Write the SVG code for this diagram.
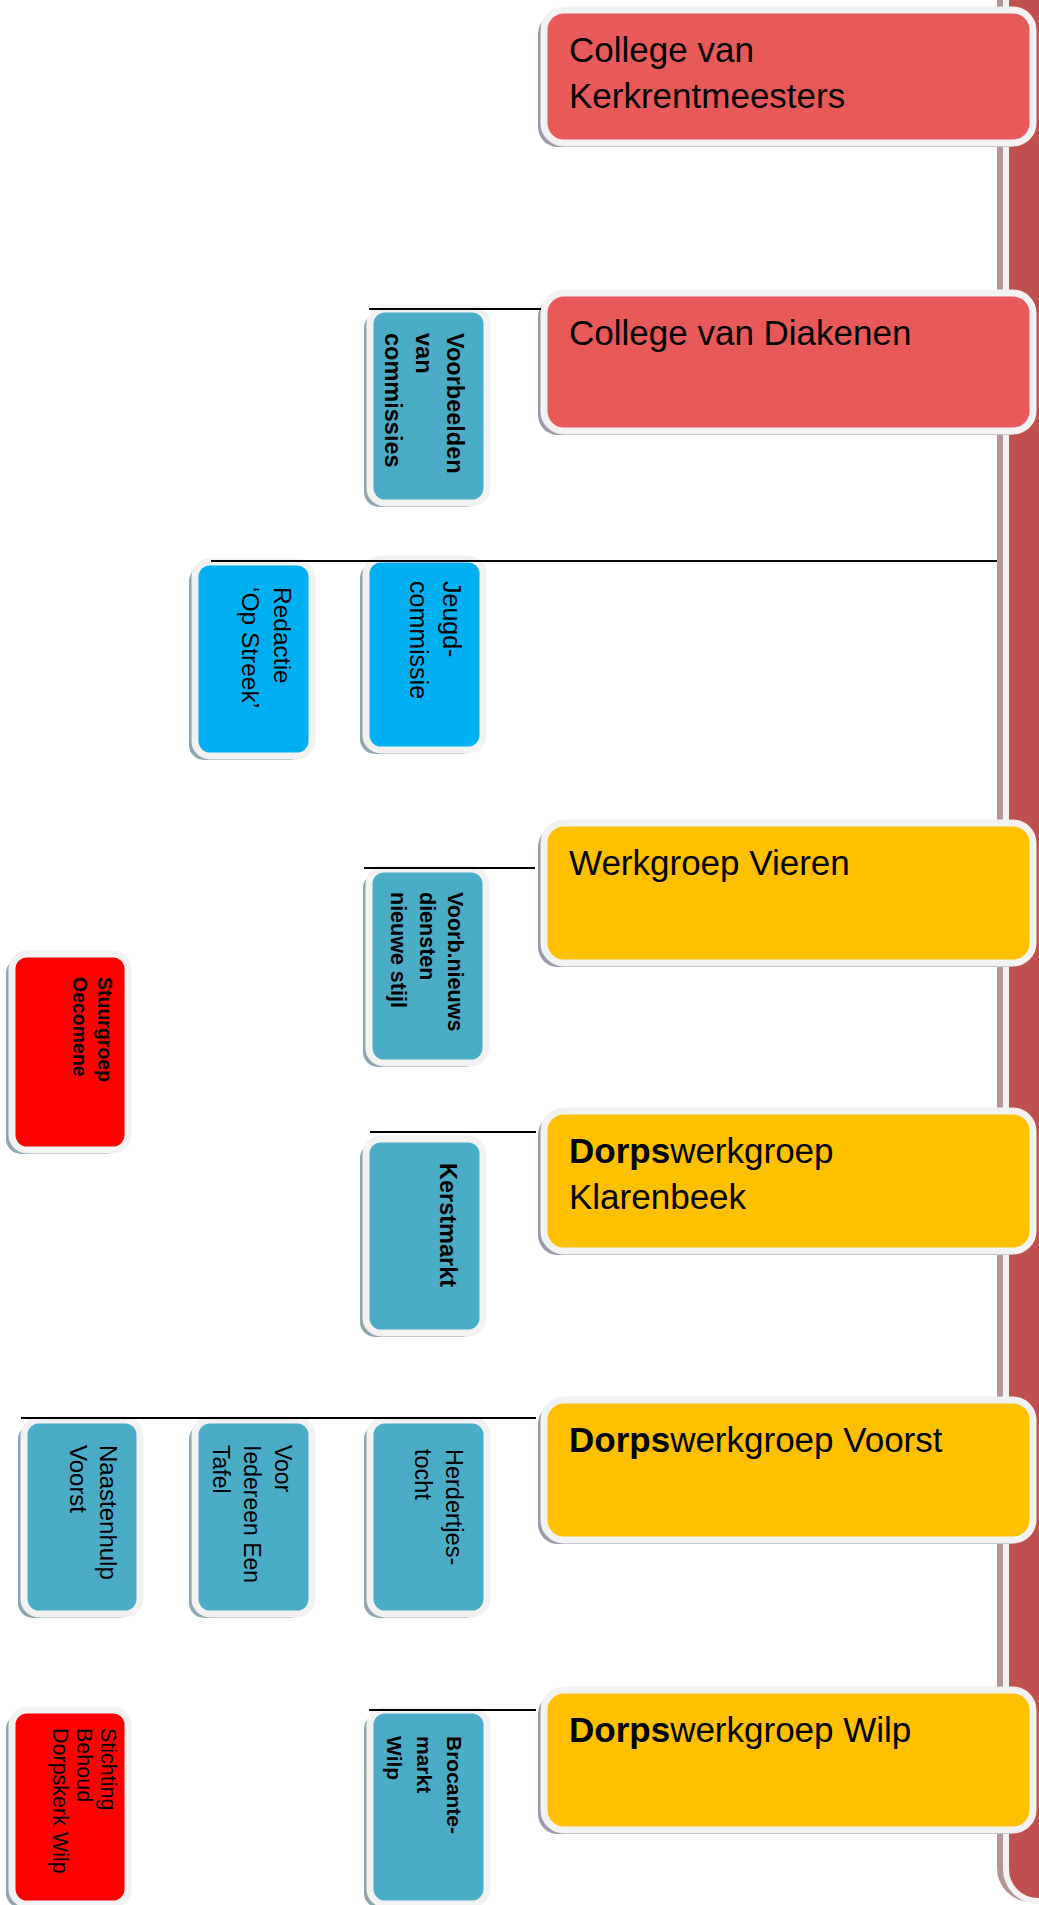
<svg xmlns="http://www.w3.org/2000/svg" width="1039" height="1905" viewBox="0 0 1039 1905">
<style>
  .shb{fill:#9e98a8}
  .shs{fill:#8fa6af}
  .bd{stroke:#f2f2f2;stroke-width:7}
  .rb{fill:#e85a5a}
  .yl{fill:#ffc000}
  .aq{fill:#4bacc6}
  .sk{fill:#00b0f0}
  .rd{fill:#ff0000}
  .bt{font-family:"Liberation Sans",Arial,sans-serif;font-size:35px;fill:#000}
  .st{font-family:"Liberation Sans",Arial,sans-serif;fill:#000}
  .b{font-weight:bold}
  .conn line{stroke:#000;stroke-width:2}
</style>
<rect width="1039" height="1905" fill="#ffffff"/>

<g id="sidebar">
  <rect x="997" y="-40" width="90" height="1942" rx="34" fill="#b39595"/>
  <rect x="1006" y="-40" width="90" height="1941" rx="32" fill="#c0504d" stroke="#f2f2f2" stroke-width="6"/>
</g>

<g id="n-kerkrentmeesters">
  <rect class="shb" x="538" y="14" width="489" height="133" rx="20"/>
  <rect class="rb bd" x="544" y="10" width="489" height="133" rx="20"/>
  <text class="bt" x="569" y="62">College van</text>
  <text class="bt" x="569" y="108">Kerkrentmeesters</text>
</g>

<g id="n-diakenen">
  <rect class="shb" x="538" y="297" width="489" height="138" rx="20"/>
  <rect class="rb bd" x="544" y="293" width="489" height="138" rx="20"/>
  <text class="bt" x="569" y="345">College van Diakenen</text>
</g>

<g id="n-vieren">
  <rect class="shb" x="538" y="827" width="489" height="140" rx="20"/>
  <rect class="yl bd" x="544" y="823" width="489" height="140" rx="20"/>
  <text class="bt" x="569" y="875">Werkgroep Vieren</text>
</g>

<g id="n-klarenbeek">
  <rect class="shb" x="538" y="1115" width="489" height="140" rx="20"/>
  <rect class="yl bd" x="544" y="1111" width="489" height="140" rx="20"/>
  <text class="bt" x="569" y="1163"><tspan class="b">Dorps</tspan>werkgroep</text>
  <text class="bt" x="569" y="1209">Klarenbeek</text>
</g>

<g id="n-voorst">
  <rect class="shb" x="538" y="1404" width="489" height="140" rx="20"/>
  <rect class="yl bd" x="544" y="1400" width="489" height="140" rx="20"/>
  <text class="bt" x="569" y="1452"><tspan class="b">Dorps</tspan>werkgroep Voorst</text>
</g>

<g id="n-wilp">
  <rect class="shb" x="538" y="1694" width="489" height="140" rx="20"/>
  <rect class="yl bd" x="544" y="1690" width="489" height="140" rx="20"/>
  <text class="bt" x="569" y="1742"><tspan class="b">Dorps</tspan>werkgroep Wilp</text>
</g>

<g id="n-voorbeelden">
  <rect class="shs" x="364" y="313" width="117" height="194" rx="15"/>
  <rect class="aq bd" x="370" y="309" width="117" height="194" rx="15"/>
  <text class="st b" font-size="23.5" transform="translate(447,333) rotate(90)"><tspan x="0" y="0">Voorbeelden</tspan><tspan x="0" y="31">van</tspan><tspan x="0" y="62">commissies</tspan></text>
</g>

<g id="n-redactie">
  <rect class="shs" x="189" y="566" width="117" height="194" rx="15"/>
  <rect class="sk bd" x="195" y="562" width="117" height="194" rx="15"/>
  <text class="st" font-size="24.5" transform="translate(274,587) rotate(90)"><tspan x="0" y="0">Redactie</tspan><tspan x="0" y="32">‘Op Streek’</tspan></text>
</g>

<g id="n-jeugd">
  <rect class="shs" x="360" y="563" width="117" height="191" rx="15"/>
  <rect class="sk bd" x="366" y="559" width="117" height="191" rx="15"/>
  <text class="st" font-size="25" transform="translate(443,581) rotate(90)"><tspan x="0" y="0">Jeugd-</tspan><tspan x="0" y="33">commissie</tspan></text>
</g>

<g id="n-voorbnieuws">
  <rect class="shs" x="363" y="873" width="117" height="194" rx="15"/>
  <rect class="aq bd" x="369" y="869" width="117" height="194" rx="15"/>
  <text class="st b" font-size="21.5" transform="translate(448,892) rotate(90)"><tspan x="0" y="0">Voorb.nieuws</tspan><tspan x="0" y="28.5">diensten</tspan><tspan x="0" y="57">nieuwe stijl</tspan></text>
</g>

<g id="n-stuurgroep">
  <rect class="shs" x="6" y="958" width="116" height="196" rx="15"/>
  <rect class="rd bd" x="12" y="954" width="116" height="196" rx="15"/>
  <text class="st b" font-size="19.5" transform="translate(98,977) rotate(90)"><tspan x="0" y="0">Stuurgroep</tspan><tspan x="0" y="25">Oecomene</tspan></text>
</g>

<g id="n-kerstmarkt">
  <rect class="shs" x="360" y="1143" width="117" height="194" rx="15"/>
  <rect class="aq bd" x="366" y="1139" width="117" height="194" rx="15"/>
  <text class="st b" font-size="23.5" transform="translate(440,1163) rotate(90)">Kerstmarkt</text>
</g>

<g id="n-naastenhulp">
  <rect class="shs" x="18" y="1424" width="116" height="194" rx="15"/>
  <rect class="aq bd" x="24" y="1420" width="116" height="194" rx="15"/>
  <text class="st" font-size="24" transform="translate(100,1445) rotate(90)"><tspan x="0" y="0">Naastenhulp</tspan><tspan x="0" y="30">Voorst</tspan></text>
</g>

<g id="n-iedereen">
  <rect class="shs" x="189" y="1424" width="117" height="194" rx="15"/>
  <rect class="aq bd" x="195" y="1420" width="117" height="194" rx="15"/>
  <text class="st" font-size="23" transform="translate(275,1445) rotate(90)"><tspan x="0" y="0">Voor</tspan><tspan x="0" y="31">Iedereen Een</tspan><tspan x="0" y="62">Tafel</tspan></text>
</g>

<g id="n-herdertjes">
  <rect class="shs" x="364" y="1424" width="117" height="194" rx="15"/>
  <rect class="aq bd" x="370" y="1420" width="117" height="194" rx="15"/>
  <text class="st" font-size="23.5" transform="translate(446,1449) rotate(90)"><tspan x="0" y="0">Herdertjes-</tspan><tspan x="0" y="31">tocht</tspan></text>
</g>

<g id="n-brocante">
  <rect class="shs" x="364" y="1714" width="117" height="194" rx="15"/>
  <rect class="aq bd" x="370" y="1710" width="117" height="194" rx="15"/>
  <text class="st b" font-size="21" transform="translate(447,1736) rotate(90)"><tspan x="0" y="0">Brocante-</tspan><tspan x="0" y="30">markt</tspan><tspan x="0" y="60">Wilp</tspan></text>
</g>

<g id="n-stichting">
  <rect class="shs" x="6" y="1714" width="116" height="194" rx="15"/>
  <rect class="rd bd" x="12" y="1710" width="116" height="194" rx="15"/>
  <text class="st" font-size="21.5" transform="translate(101,1728) rotate(90)"><tspan x="0" y="0">Stichting</tspan><tspan x="0" y="24">Behoud</tspan><tspan x="0" y="48">Dorpskerk Wilp</tspan></text>
</g>

<g id="connectors" class="conn">
  <line x1="369" y1="309" x2="541" y2="309"/>
  <line x1="211" y1="561" x2="997" y2="561"/>
  <line x1="364" y1="868" x2="535" y2="868"/>
  <line x1="370" y1="1132" x2="536" y2="1132"/>
  <line x1="21" y1="1418" x2="536" y2="1418"/>
  <line x1="369" y1="1710" x2="536" y2="1710"/>
</g>
</svg>
